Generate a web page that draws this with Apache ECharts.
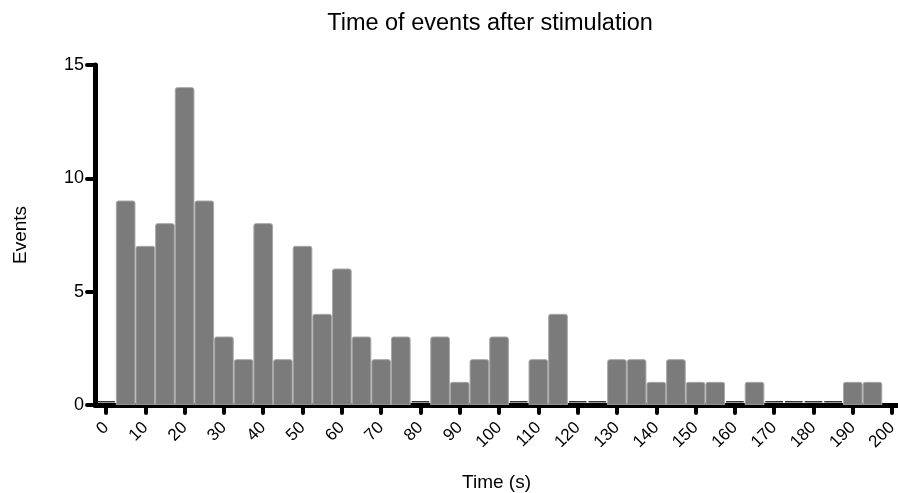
<!DOCTYPE html>
<html>
<head>
<meta charset="utf-8">
<title>Time of events after stimulation</title>
<script src="https://cdn.jsdelivr.net/npm/echarts@6/dist/echarts.min.js"></script>
<style>
  html, body { margin: 0; padding: 0; background: #fff; }
  #chart { width: 898px; height: 493px; }
</style>
</head>
<body>
<div id="chart"></div>
<script>
// bin centres (s), 5 s wide bins
const binCenters = [0, 5, 10, 15, 20, 25, 30, 35, 40, 45, 50, 55, 60, 65, 70, 75, 80, 85, 90, 95,
  100, 105, 110, 115, 120, 125, 130, 135, 140, 145, 150, 155, 160, 165, 170, 175, 180, 185, 190, 195];
// event counts per bin
const eventCounts = [0, 9, 7, 8, 14, 9, 3, 2, 8, 2, 7, 4, 6, 3, 2, 3, 0, 3, 1, 2,
  3, 0, 2, 4, 0, 0, 2, 2, 1, 2, 1, 1, 0, 1, 0, 0, 0, 0, 1, 1];
const binWidth = 5;
const xTicks = [0, 10, 20, 30, 40, 50, 60, 70, 80, 90, 100, 110, 120, 130, 140, 150, 160, 170, 180, 190, 200];

const font = "'Liberation Sans', Arial, Helvetica, sans-serif";
const chart = echarts.init(document.getElementById("chart"));

const option = {
  animation: false,
  title: {
    text: "Time of events after stimulation",
    left: 485,
    textAlign: "center",
    top: 7,
    textStyle: { fontFamily: font, fontSize: 23.5, fontWeight: "normal", color: "#000" },
  },
  grid: { left: 95, right: 0, top: 65, bottom: 88, outerBoundsMode: "none", containLabel: false },
  xAxis: {
    type: "value",
    min: -2.8,
    max: 201.5,
    name: "Time (s)",
    nameLocation: "middle",
    nameGap: 68,
    nameTextStyle: { fontFamily: font, fontSize: 19, color: "#000" },
    splitLine: { show: false },
    axisLine: { onZero: false, lineStyle: { color: "#000", width: 5, cap: "round" } },
    axisTick: {
      customValues: xTicks,
      length: 8,
      lineStyle: { color: "#000", width: 4, cap: "round" },
    },
    axisLabel: {
      customValues: xTicks,
      rotate: 45,
      margin: 20,
      fontFamily: font,
      fontSize: 17,
      color: "#000",
    },
  },
  yAxis: {
    type: "value",
    min: 0,
    max: 15,
    interval: 5,
    name: "Events",
    nameLocation: "middle",
    nameGap: 65,
    nameTextStyle: { fontFamily: font, fontSize: 19, color: "#000" },
    splitLine: { show: false },
    axisLine: { show: true, onZero: false, lineStyle: { color: "#000", width: 5, cap: "round" } },
    axisTick: { show: true, length: 8, lineStyle: { color: "#000", width: 4, cap: "round" } },
    axisLabel: { margin: 11, fontFamily: font, fontSize: 18, color: "#000" },
  },
  series: [
    {
      type: "custom",
      data: binCenters.map((c, i) => [c, eventCounts[i]]),
      encode: { x: 0, y: 1 },
      clip: true,
      renderItem: function (params, api) {
        const c = api.value(0);
        const v = api.value(1);
        const topLeft = api.coord([c - binWidth / 2, v]);
        const bottomRight = api.coord([c + binWidth / 2, 0]);
        if (v === 0) {
          return {
            type: "rect",
            shape: { x: topLeft[0] + 1, y: bottomRight[1] - 4, width: bottomRight[0] - topLeft[0] - 2, height: 1.5 },
            style: { fill: "#333" },
          };
        }
        return {
          type: "rect",
          shape: {
            x: topLeft[0] + 0.5,
            y: topLeft[1],
            width: bottomRight[0] - topLeft[0] - 1,
            height: bottomRight[1] - topLeft[1],
            r: [2, 2, 0, 0],
          },
          style: { fill: "#7b7b7b", stroke: "#a8a8a8", lineWidth: 1 },
        };
      },
      z: 1,
    },
  ],
};

chart.setOption(option);
</script>
</body>
</html>
